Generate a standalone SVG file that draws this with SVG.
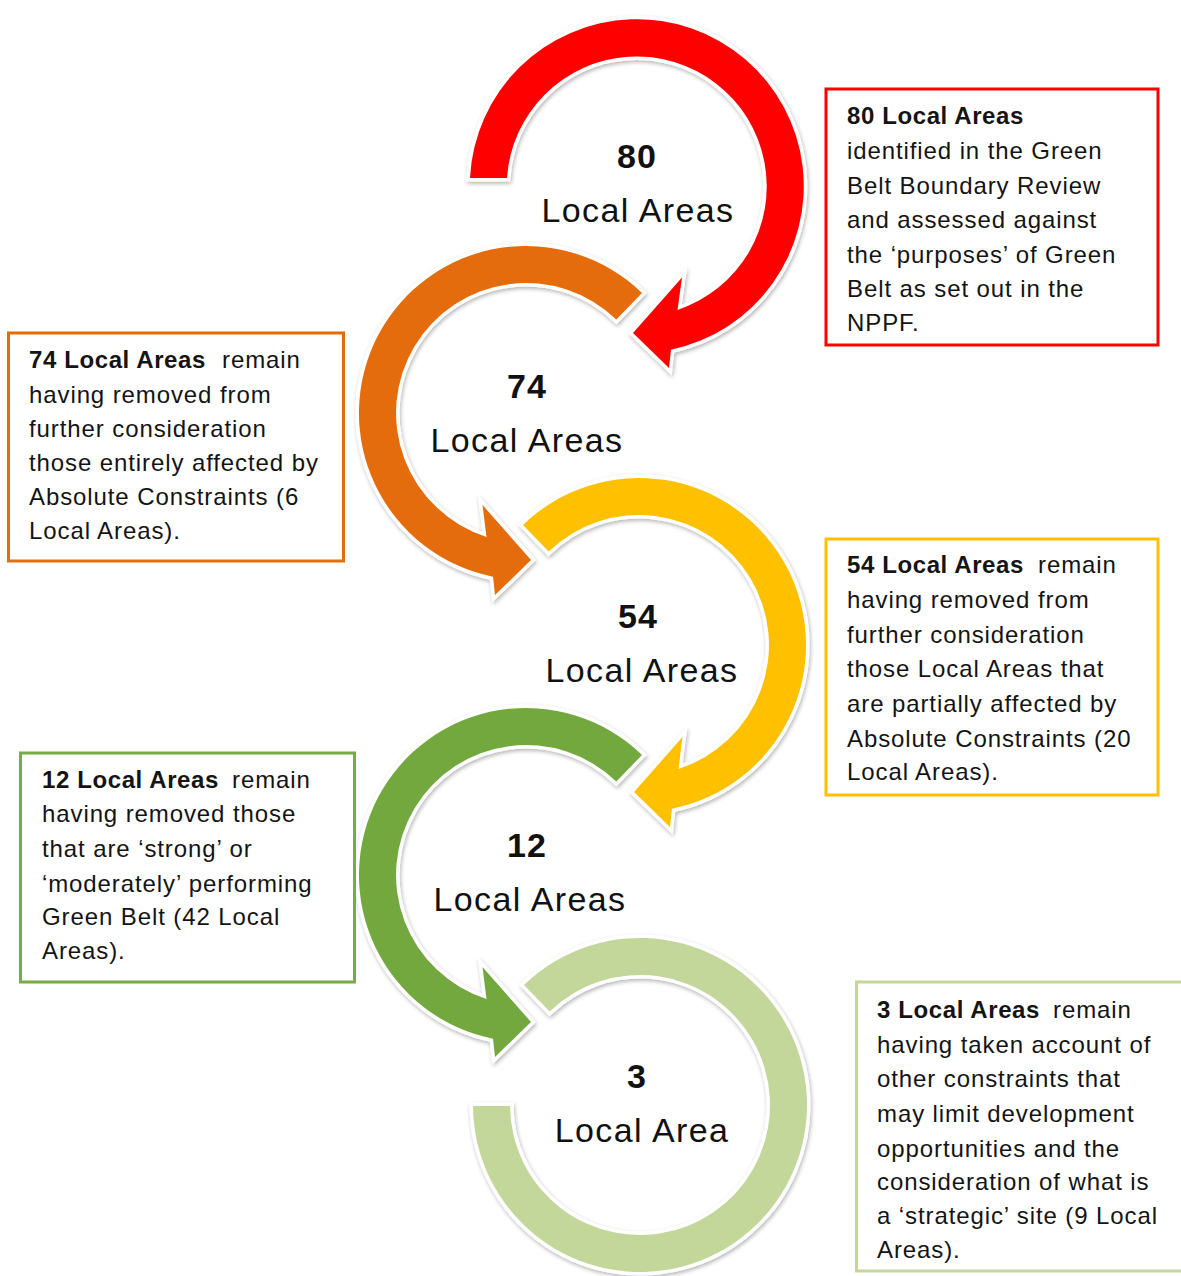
<svg xmlns="http://www.w3.org/2000/svg" width="1181" height="1276" viewBox="0 0 1181 1276">
<defs>
<filter id="sh" x="-10%" y="-10%" width="120%" height="120%">
<feGaussianBlur in="SourceAlpha" stdDeviation="2"/>
<feOffset dx="1" dy="1.5" result="b"/>
<feComponentTransfer><feFuncA type="linear" slope="0.3"/></feComponentTransfer>
<feMerge><feMergeNode/><feMergeNode in="SourceGraphic"/></feMerge>
</filter>
</defs>
<style>
.ring{stroke:#fff;stroke-width:7;stroke-linejoin:miter;paint-order:stroke;filter:url(#sh)}
.num{font-family:"Liberation Sans",Arial,sans-serif;font-weight:bold;font-size:34px;fill:#111;text-anchor:middle;letter-spacing:1px}
.lbl{font-family:"Liberation Sans",Arial,sans-serif;font-size:34px;fill:#111;text-anchor:middle;letter-spacing:1.4px}
.box{fill:#fff;stroke-width:3}
.bt{font-family:"Liberation Sans",Arial,sans-serif;font-size:24px;fill:#141414;letter-spacing:0.9px}
.b{font-weight:bold;letter-spacing:0.6px}
</style>
<rect width="1181" height="1276" fill="#fff"/>
<g id="connectors">
<path id="arrow-80" class="ring" fill="#FF0000" d="M 470 178 A 167 167 0 1 1 671 349.7 L 669 368 L 633 333 L 682 277.5 L 677.5 309.9 A 130 130 0 1 0 507 178 Z"/>
<path id="arrow-74" class="ring" fill="#E46C0A" d="M 642 292.9 A 167 167 0 1 0 493 576.7 L 495 595 L 531 560 L 482.5 505 L 486.5 536.9 A 130 130 0 1 1 616.3 319.5 Z"/>
<path id="arrow-54" class="ring" fill="#FFC000" d="M 523 524.9 A 167 167 0 1 1 672 808.7 L 670 827 L 634 792 L 682.5 737 L 678.5 768.9 A 130 130 0 1 0 548.7 551.5 Z"/>
<path id="arrow-12" class="ring" fill="#72A83E" d="M 642 754.9 A 167 167 0 1 0 493 1038.7 L 495 1057 L 531 1022 L 482.5 967 L 486.5 998.9 A 130 130 0 1 1 616.3 781.5 Z"/>
<path id="arrow-3" class="ring" fill="#C4D79B" d="M 524 984.9 A 167 167 0 1 1 473 1106 L 510 1106 A 130 130 0 1 0 549.7 1011.5 Z"/>
</g>
<g id="node-80">
<text class="num" x="637" y="168">80</text>
<text class="lbl" x="638" y="222">Local Areas</text>
</g>
<g id="node-74">
<text class="num" x="527" y="398">74</text>
<text class="lbl" x="527" y="452">Local Areas</text>
</g>
<g id="node-54">
<text class="num" x="638" y="628">54</text>
<text class="lbl" x="642" y="682">Local Areas</text>
</g>
<g id="node-12">
<text class="num" x="527" y="857">12</text>
<text class="lbl" x="530" y="911">Local Areas</text>
</g>
<g id="node-3">
<text class="num" x="637" y="1088">3</text>
<text class="lbl" x="642" y="1142">Local Area</text>
</g>
<g id="box-80">
<rect class="box" stroke="#FF0000" x="826" y="89" width="332" height="256"/>
<text class="bt" x="847" y="124"><tspan class="b">80 Local Areas</tspan></text>
<text class="bt" x="847" y="159">identified in the Green</text>
<text class="bt" x="847" y="194">Belt Boundary Review</text>
<text class="bt" x="847" y="228">and assessed against</text>
<text class="bt" x="847" y="263">the ‘purposes’ of Green</text>
<text class="bt" x="847" y="297">Belt as set out in the</text>
<text class="bt" x="847" y="331">NPPF.</text>
</g>
<g id="box-74">
<rect class="box" stroke="#E46C0A" x="8.5" y="333" width="335" height="228"/>
<text class="bt" x="29" y="368"><tspan class="b">74 Local Areas</tspan><tspan x="222">remain</tspan></text>
<text class="bt" x="29" y="402.5">having removed from</text>
<text class="bt" x="29" y="437">further consideration</text>
<text class="bt" x="29" y="471">those entirely affected by</text>
<text class="bt" x="29" y="505">Absolute Constraints (6</text>
<text class="bt" x="29" y="539">Local Areas).</text>
</g>
<g id="box-54">
<rect class="box" stroke="#FFC000" x="826" y="539" width="332" height="256"/>
<text class="bt" x="847" y="573"><tspan class="b">54 Local Areas</tspan><tspan x="1038">remain</tspan></text>
<text class="bt" x="847" y="607.5">having removed from</text>
<text class="bt" x="847" y="642.5">further consideration</text>
<text class="bt" x="847" y="677">those Local Areas that</text>
<text class="bt" x="847" y="711.5">are partially affected by</text>
<text class="bt" x="847" y="746.5">Absolute Constraints (20</text>
<text class="bt" x="847" y="780">Local Areas).</text>
</g>
<g id="box-12">
<rect class="box" stroke="#77AC45" x="20.5" y="753" width="334" height="229"/>
<text class="bt" x="42" y="788"><tspan class="b">12 Local Areas</tspan><tspan x="232">remain</tspan></text>
<text class="bt" x="42" y="822">having removed those</text>
<text class="bt" x="42" y="857">that are ‘strong’ or</text>
<text class="bt" x="42" y="891.5">‘moderately’ performing</text>
<text class="bt" x="42" y="925">Green Belt (42 Local</text>
<text class="bt" x="42" y="958.5">Areas).</text>
</g>
<g id="box-3">
<rect class="box" stroke="#C4D79B" x="856.5" y="982" width="340" height="289"/>
<text class="bt" x="877" y="1018"><tspan class="b">3 Local Areas</tspan><tspan x="1053">remain</tspan></text>
<text class="bt" x="877" y="1053">having taken account of</text>
<text class="bt" x="877" y="1087">other constraints that</text>
<text class="bt" x="877" y="1122">may limit development</text>
<text class="bt" x="877" y="1156.5">opportunities and the</text>
<text class="bt" x="877" y="1190">consideration of what is</text>
<text class="bt" x="877" y="1223.5">a ‘strategic’ site (9 Local</text>
<text class="bt" x="877" y="1258">Areas).</text>
</g>
</svg>
